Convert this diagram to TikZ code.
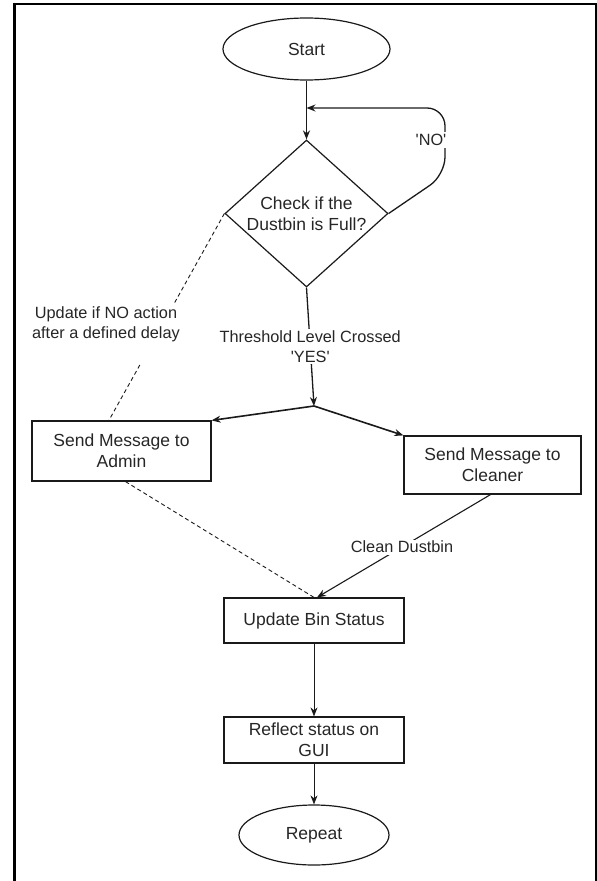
\documentclass[tikz,border=0pt]{standalone}
\usepackage{fontspec}
\setmainfont{Liberation Sans}[Ligatures=TeXOff]
\usetikzlibrary{shapes.geometric,arrows.meta,calc}
\definecolor{txt}{HTML}{262626}
\definecolor{ln}{HTML}{1A1A1A}
\begin{document}
\begin{tikzpicture}[x=1pt,y=-1pt,
  every node/.style={text=txt},
  nodefont/.style={font=\fontsize{17.5}{21}\selectfont},
  lblfont/.style={font=\fontsize{16.3}{20}\selectfont},
  term/.style={ellipse,draw=ln,line width=1.2pt,nodefont,inner sep=0pt},
  procbox/.style={rectangle,draw=ln,line width=1.2pt,nodefont,align=center,inner sep=0pt},
  decbox/.style={diamond,draw=ln,line width=1.2pt,nodefont,align=center,inner sep=0pt,shape aspect=1.11},
  flow/.style={draw=ln,-{Stealth[length=9pt,width=7pt]}},
  dashlink/.style={draw=ln,line width=0.9pt,dash pattern=on 4pt off 3pt},
  edgelbl/.style={lblfont,fill=white,inner sep=1.5pt,align=center}
]
\useasboundingbox (0,0) rectangle (597,881);
% frame
\draw[line width=2.3pt,black] (14.5,884) -- (14.5,3.8) -- (596.5,3.8) -- (596.5,884);

% nodes
\node[term,minimum width=167pt,minimum height=62pt] (start) at (306.5,49) {Start};
\node[decbox,minimum width=163pt,minimum height=147pt] (dia) at (306.5,213.5) {Check if the\\Dustbin is Full?};
\node[procbox,minimum width=179pt,minimum height=60pt] (adm) at (121.5,451) {Send Message to\\Admin};
\node[procbox,minimum width=177pt,minimum height=58pt] (cln) at (492.5,465) {Send Message to\\Cleaner};
\node[procbox,minimum width=180pt,minimum height=45pt] (upd) at (314,620.5) {Update Bin Status};
\node[procbox,minimum width=180pt,minimum height=46pt] (gui) at (314,740) {Reflect status on\\GUI};
\node[term,minimum width=150pt,minimum height=60pt] (rep) at (314,835) {Repeat};

\coordinate (join) at (306.5,108);
\coordinate (sp) at (314,406);
\coordinate (lp1) at (445,175);
\coordinate (lp2) at (445,108);

% start -> decision
\draw[flow,line width=1.7pt] (start.south) -- (dia.north);
% NO loop
\draw[flow,line width=1.3pt,rounded corners=18pt] (dia.east) -- (lp1) -- (lp2) -- (join);
\node[lblfont,fill=white,inner sep=2pt] (nolbl) at (431,140) {'NO'};

% YES
\draw[flow,line width=1.3pt] (dia.south) -- node[edgelbl,pos=0.5] (yeslbl) {Threshold Level Crossed\\'YES'} (sp);
\draw[flow,line width=1.6pt] (sp) -- (adm.north east);
\draw[flow,line width=1.6pt] (sp) -- (cln.north west);

% dashed escalation
\coordinate (admtop) at ($(adm.north west)!0.43!(adm.north east)$);
\draw[dashlink] (dia.west) -- ($(dia.west)!0.435!(admtop)$);
\draw[dashlink] ($(dia.west)!0.732!(admtop)$) -- (admtop);
\node[lblfont,align=center,inner sep=0pt] (dlbl) at (106,324) {Update if NO action\\after a defined delay};
\draw[dashlink] ($(adm.south)+(4,0)$) -- (upd.north);

% clean
\draw[flow,line width=1.1pt] ($(cln.south)+(-2,0)$) -- node[edgelbl,pos=0.51] (cleanlbl) {Clean Dustbin} ($(upd.north)+(3,0)$);

% bottom chain
\draw[flow,line width=0.9pt] (upd.south) -- (gui.north);
\draw[flow,line width=0.9pt] (gui.south) -- (rep.north);
\end{tikzpicture}
\end{document}
